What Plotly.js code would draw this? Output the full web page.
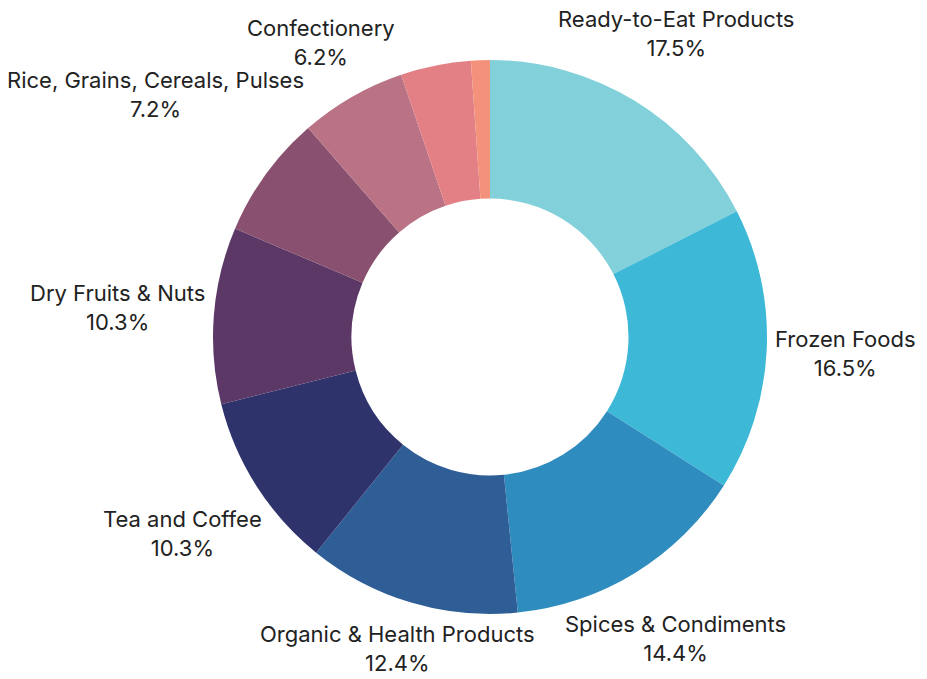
<!DOCTYPE html>
<html>
<head>
<meta charset="utf-8">
<script src="https://cdn.plot.ly/plotly-3.0.1.min.js"></script>
<style>html,body{margin:0;padding:0;background:#fff;}#chart{width:927px;height:679px;}</style>
</head>
<body>
<div id="chart"></div>
<script>
const categories = ["Ready-to-Eat Products","Frozen Foods","Spices & Condiments","Organic & Health Products","Tea and Coffee","Dry Fruits & Nuts","Rice, Grains, Cereals, Pulses","Confectionery","Other A","Other B"];
const shares = [17.5, 16.5, 14.4, 12.4, 10.3, 10.3, 7.2, 6.2, 4.1, 1.1];
const showLabel = [true, true, true, true, true, true, true, true, false, false];
const colors = ["#81D0DA","#3DB8D7","#2F8CBE","#2F5E97","#2F336B","#5C3866","#89516F","#B97385","#E28085","#F4917A"];

const W = 927, H = 679, cx = 490, cy = 337, R = 277;
const FONT_FAMILY = "Inter";
const FONT_SIZE = 22;
const GAP = 8;

// measure text for label placement
const ctx = document.createElement("canvas").getContext("2d");
ctx.font = FONT_SIZE + "px " + FONT_FAMILY;

const total = shares.reduce((a, b) => a + b, 0);
let cum = 0;
const annotations = [];
shares.forEach((v, i) => {
  const mid = (cum + v / 2) / total * 2 * Math.PI;
  cum += v;
  if (!showLabel[i]) return;
  const line1 = categories[i];
  const line2 = v.toFixed(1) + "%";
  const hw = Math.max(ctx.measureText(line1).width, ctx.measureText(line2).width) / 2;
  const hh = FONT_SIZE * 1.2;
  const ux = Math.sin(mid), uy = -Math.cos(mid);
  const dist = d => {
    const ex = Math.max(0, Math.abs(d * ux) - hw);
    const ey = Math.max(0, Math.abs(d * uy) - hh);
    return Math.hypot(ex, ey);
  };
  let lo = 0, hi = 800;
  for (let k = 0; k < 60; k++) {
    const m = (lo + hi) / 2;
    if (dist(m) < R + GAP) lo = m; else hi = m;
  }
  const px = cx + lo * ux, py = cy + lo * uy;
  annotations.push({
    x: px / W, y: 1 - py / H, xref: "paper", yref: "paper",
    xanchor: "center", yanchor: "middle", showarrow: false,
    text: line1 + "<br>" + line2, align: "center",
    font: {family: FONT_FAMILY, size: FONT_SIZE, color: "#222222"}
  });
});

const data = [{
  type: "pie",
  labels: categories,
  values: shares,
  sort: false,
  direction: "clockwise",
  rotation: 0,
  hole: 0.5,
  marker: {colors: colors, line: {width: 0}},
  textinfo: "none",
  automargin: false,
  showlegend: false,
  domain: {x: [(cx - R) / W, (cx + R) / W], y: [1 - (cy + R) / H, 1 - (cy - R) / H]}
}];
const layout = {
  width: W, height: H,
  margin: {l: 0, r: 0, t: 0, b: 0},
  paper_bgcolor: "#ffffff",
  showlegend: false,
  annotations: annotations
};
Plotly.newPlot("chart", data, layout, {displayModeBar: false, staticPlot: true});
</script>
</body>
</html>
